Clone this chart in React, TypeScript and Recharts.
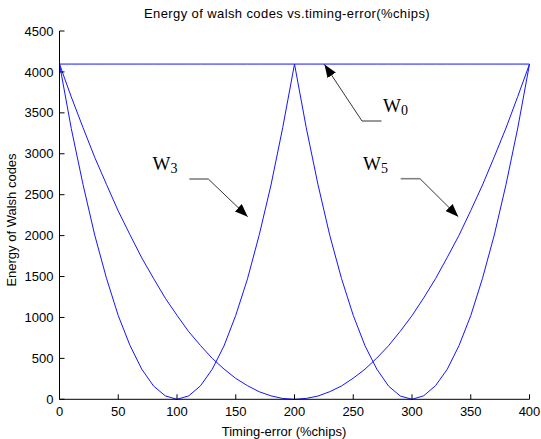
import { LineChart, Line, XAxis, YAxis } from "recharts";

const timingError = [
  0, 10, 20, 30, 40, 50, 60, 70, 80, 90, 100, 110, 120, 130, 140, 150, 160, 170, 180, 190, 200,
  210, 220, 230, 240, 250, 260, 270, 280, 290, 300, 310, 320, 330, 340, 350, 360, 370, 380, 390, 400
];

const w0 = [
  4096, 4096, 4096, 4096, 4096, 4096, 4096, 4096, 4096, 4096, 4096, 4096, 4096, 4096, 4096, 4096,
  4096, 4096, 4096, 4096, 4096, 4096, 4096, 4096, 4096, 4096, 4096, 4096, 4096, 4096, 4096, 4096,
  4096, 4096, 4096, 4096, 4096, 4096, 4096, 4096, 4096
];

const w3 = [
  4096, 3310, 2625, 2005, 1478, 1022, 658, 368, 163, 42, 0, 42, 165, 368, 652, 1026, 1472, 2010,
  2618, 3322, 4096, 3318, 2622, 2004, 1476, 1025, 654, 370, 162, 40, 0, 43, 166, 367, 656, 1022,
  1478, 2006, 2624, 3315, 4096
];

const w5 = [
  4096, 3695, 3320, 2955, 2625, 2300, 2010, 1728, 1478, 1236, 1026, 826, 657, 500, 370, 255, 166,
  92, 42, 10, 0, 11, 40, 93, 163, 258, 368, 503, 654, 831, 1022, 1240, 1473, 1734, 2004, 2306,
  2619, 2962, 3315, 3700, 4096
];

const xTicks = [0, 50, 100, 150, 200, 250, 300, 350, 400];
const yTicks = [0, 500, 1000, 1500, 2000, 2500, 3000, 3500, 4000, 4500];

const rows = timingError.map((t, i) => ({ t, w0: w0[i], w3: w3[i], w5: w5[i] }));

const sans = "'Liberation Sans', Arial, sans-serif";
const serif = "'Liberation Serif', 'Times New Roman', serif";
const blue = "#1414ff";

const BottomTick = (props: any) => {
  const { x, y, payload } = props;
  return (
    <g>
      <line x1={x} x2={x} y1={y} y2={y - 5} stroke="#000" />
      <text x={x} y={y + 17} textAnchor="middle" fontSize={13} fontFamily={sans} fill="#000">
        {payload.value}
      </text>
    </g>
  );
};

const TopTick = (props: any) => {
  const { x, y } = props;
  return <line x1={x} x2={x} y1={y} y2={y + 5} stroke="#000" />;
};

const LeftTick = (props: any) => {
  const { x, y, payload } = props;
  return (
    <g>
      <line x1={x} x2={x + 5} y1={y} y2={y} stroke="#000" />
      <text x={x - 6} y={y + 4.6} textAnchor="end" fontSize={13} fontFamily={sans} fill="#000">
        {payload.value}
      </text>
    </g>
  );
};

const RightTick = (props: any) => {
  const { x, y } = props;
  return <line x1={x} x2={x - 5} y1={y} y2={y} stroke="#000" />;
};

function Annotations() {
  return (
    <svg
      width={541}
      height={439}
      style={{ position: "absolute", left: 0, top: 0, pointerEvents: "none" }}
    >
      <defs>
        <marker
          id="head"
          markerWidth={13}
          markerHeight={10}
          refX={13}
          refY={5}
          orient="auto"
          markerUnits="userSpaceOnUse"
        >
          <path d="M0,0 L13,5 L0,10 z" fill="#000" />
        </marker>
      </defs>

      <text
        x={287}
        y={18}
        textAnchor="middle"
        fontSize={13}
        letterSpacing={0.4}
        fontFamily={sans}
        fill="#000"
      >
        Energy of walsh codes vs.timing-error(%chips)
      </text>
      <text x={284} y={436} textAnchor="middle" fontSize={13} fontFamily={sans} fill="#000">
        Timing-error (%chips)
      </text>
      <text
        x={16}
        y={220}
        textAnchor="middle"
        fontSize={13}
        fontFamily={sans}
        fill="#000"
        transform="rotate(-90 16 220)"
      >
        Energy of Walsh codes
      </text>

      {/* W0 */}
      <line x1={362} y1={121} x2={381.5} y2={121} stroke="#808080" strokeWidth={1.6} />
      <line x1={362} y1={121} x2={324.5} y2={64.5} stroke="#000" strokeWidth={0.8} markerEnd="url(#head)" />
      <text x={383} y={112} fontSize={19} fontFamily={serif} fill="#000">
        W<tspan fontSize={14} dy={3}>0</tspan>
      </text>

      {/* W3 */}
      <line x1={189.3} y1={179} x2={208.3} y2={179} stroke="#808080" strokeWidth={1.6} />
      <line x1={208.3} y1={179} x2={247.7} y2={216.7} stroke="#000" strokeWidth={0.8} markerEnd="url(#head)" />
      <text x={152.5} y={169.5} fontSize={19} fontFamily={serif} fill="#000">
        W<tspan fontSize={14} dy={3}>3</tspan>
      </text>

      {/* W5 */}
      <line x1={400.7} y1={178.7} x2={420} y2={178.7} stroke="#808080" strokeWidth={1.6} />
      <line x1={420} y1={178.7} x2={458.3} y2={216.7} stroke="#000" strokeWidth={0.8} markerEnd="url(#head)" />
      <text x={363} y={169.5} fontSize={19} fontFamily={serif} fill="#000">
        W<tspan fontSize={14} dy={3}>5</tspan>
      </text>
    </svg>
  );
}

export default function App() {
  return (
    <div style={{ position: "absolute", left: 0, top: 0, width: 541, height: 439, background: "#fff" }}>
      <LineChart width={541} height={439} data={rows} margin={{ top: 31, right: 11.5, bottom: 0, left: 0 }}>
        <XAxis
          dataKey="t"
          type="number"
          domain={[0, 400]}
          ticks={xTicks}
          interval={0}
          height={39.7}
          tickSize={0}
          tickMargin={0}
          tickLine={false}
          tick={<BottomTick />}
          axisLine={{ stroke: "#000" }}
        />
        <XAxis
          xAxisId="top"
          orientation="top"
          dataKey="t"
          type="number"
          domain={[0, 400]}
          ticks={xTicks}
          interval={0}
          height={0}
          tickSize={0}
          tickMargin={0}
          tickLine={false}
          tick={<TopTick />}
          axisLine={{ stroke: "#000" }}
        />
        <YAxis
          type="number"
          domain={[0, 4500]}
          ticks={yTicks}
          interval={0}
          width={59.5}
          tickSize={0}
          tickMargin={0}
          tickLine={false}
          tick={<LeftTick />}
          axisLine={{ stroke: "#000" }}
        />
        <YAxis
          yAxisId="right"
          orientation="right"
          type="number"
          domain={[0, 4500]}
          ticks={yTicks}
          interval={0}
          width={0}
          tickSize={0}
          tickMargin={0}
          tickLine={false}
          tick={<RightTick />}
          axisLine={{ stroke: "#000" }}
        />
        <Line dataKey="w0" type="linear" stroke={blue} strokeWidth={1} dot={false} isAnimationActive={false} />
        <Line dataKey="w3" type="linear" stroke={blue} strokeWidth={1} dot={false} isAnimationActive={false} />
        <Line dataKey="w5" type="linear" stroke={blue} strokeWidth={1} dot={false} isAnimationActive={false} />
      </LineChart>
      <Annotations />
    </div>
  );
}
